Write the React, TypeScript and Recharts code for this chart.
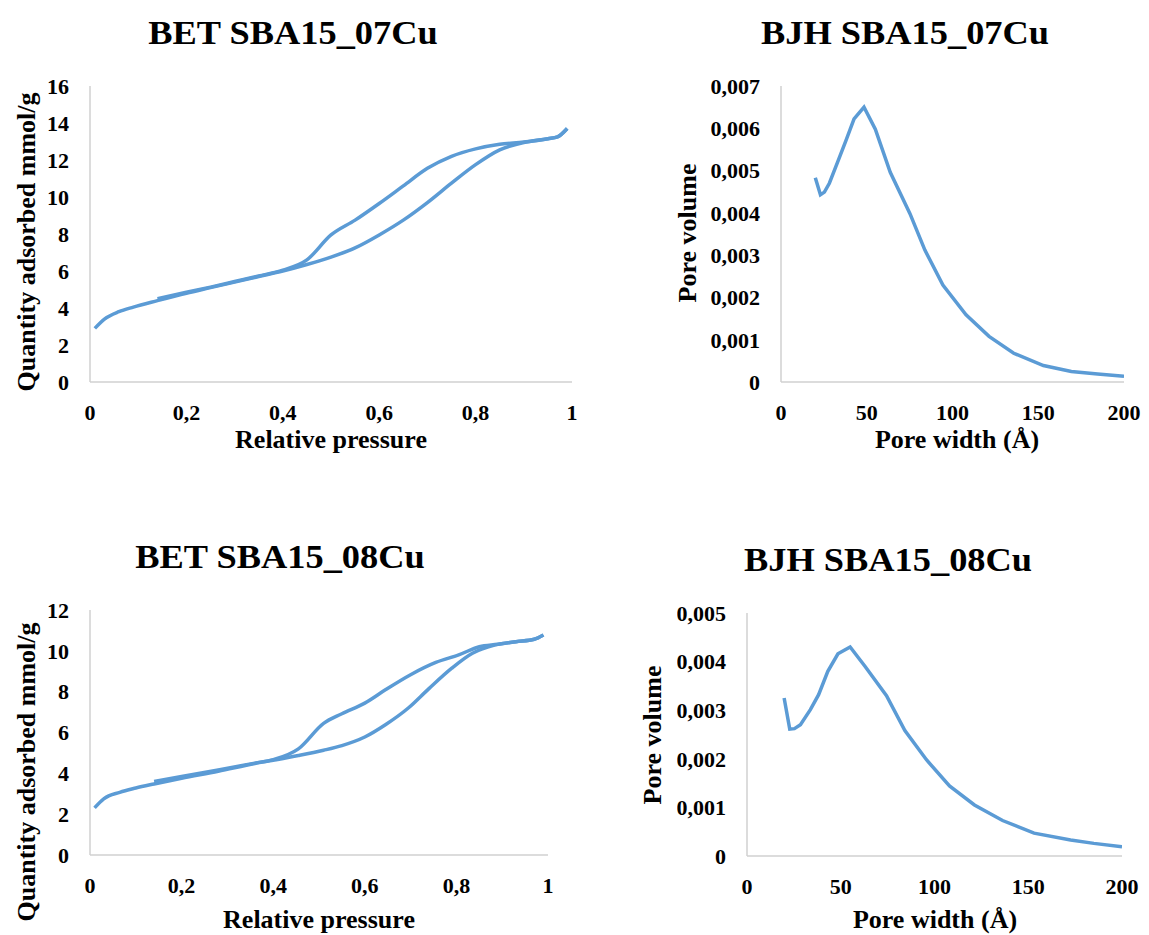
import { Line, LineChart, XAxis, YAxis } from "recharts";

const FONT = '"Liberation Serif", "Times New Roman", serif';
const BLUE = "#5b9bd5";
const AXIS = "#d0d0d0";

// BET SBA15_07Cu, adsorption / desorption branches
const bet07AdsP = [0.01, 0.03, 0.06, 0.09, 0.14, 0.2, 0.25, 0.3, 0.35, 0.4, 0.45, 0.5, 0.55, 0.6, 0.65, 0.7, 0.75, 0.8, 0.85, 0.9, 0.95, 0.97, 0.99];
const bet07AdsQ = [2.9, 3.4, 3.8, 4.05, 4.4, 4.8, 5.1, 5.4, 5.7, 6.0, 6.35, 6.75, 7.25, 7.95, 8.75, 9.7, 10.75, 11.75, 12.55, 12.95, 13.15, 13.25, 13.7];
const bet07DesP = [0.14, 0.2, 0.25, 0.3, 0.35, 0.4, 0.45, 0.5, 0.55, 0.6, 0.65, 0.7, 0.75, 0.8, 0.85, 0.9, 0.95, 0.97, 0.99];
const bet07DesQ = [4.5, 4.85, 5.13, 5.43, 5.73, 6.05, 6.6, 7.95, 8.75, 9.65, 10.6, 11.55, 12.2, 12.6, 12.85, 12.97, 13.15, 13.25, 13.7];

// BET SBA15_08Cu
const bet08AdsP = [0.01, 0.03, 0.065, 0.1, 0.14, 0.2, 0.28, 0.36, 0.4, 0.455, 0.51, 0.55, 0.6, 0.645, 0.695, 0.74, 0.79, 0.835, 0.885, 0.93, 0.97, 0.99];
const bet08AdsQ = [2.31, 2.75, 3.07, 3.28, 3.48, 3.76, 4.1, 4.48, 4.64, 4.87, 5.13, 5.36, 5.78, 6.38, 7.2, 8.15, 9.15, 9.88, 10.29, 10.45, 10.57, 10.78];
const bet08DesP = [0.14, 0.2, 0.28, 0.36, 0.4, 0.455, 0.51, 0.55, 0.6, 0.645, 0.7, 0.755, 0.805, 0.85, 0.89, 0.93, 0.97, 0.99];
const bet08DesQ = [3.6, 3.85, 4.17, 4.5, 4.67, 5.2, 6.45, 6.92, 7.44, 8.09, 8.83, 9.43, 9.8, 10.2, 10.32, 10.45, 10.57, 10.78];

// BJH pore size distributions
const bjh07W = [20, 23, 25.3, 28.2, 33, 37.8, 42.6, 48.4, 55, 63.7, 75.2, 83.9, 94.4, 107.9, 121.3, 135.7, 153, 169.3, 184.6, 200];
const bjh07V = [0.00483, 0.00443, 0.00449, 0.0047, 0.0052, 0.0057, 0.00622, 0.0065, 0.00598, 0.00496, 0.00398, 0.00312, 0.00229, 0.00159, 0.00108, 0.00068, 0.00039, 0.00025, 0.00019, 0.000135];
const bjh08W = [19.8, 22.8, 25.3, 28.5, 33.8, 38.2, 43.1, 48.5, 55, 63, 74.4, 84.2, 95.7, 108, 121.3, 136.3, 153.1, 172.6, 185, 200];
const bjh08V = [0.00325, 0.00261, 0.00262, 0.0027, 0.00301, 0.00332, 0.0038, 0.00416, 0.0043, 0.0039, 0.0033, 0.00258, 0.00198, 0.00144, 0.00105, 0.00073, 0.00047, 0.00033, 0.00026, 0.00019];

const pressureTicks = [0, 0.2, 0.4, 0.6, 0.8, 1];
const widthTicks = [0, 50, 100, 150, 200];
const bet07Ticks = [0, 2, 4, 6, 8, 10, 12, 14, 16];
const bet08Ticks = [0, 2, 4, 6, 8, 10, 12];
const bjh07Ticks = [0, 0.001, 0.002, 0.003, 0.004, 0.005, 0.006, 0.007];
const bjh08Ticks = [0, 0.001, 0.002, 0.003, 0.004, 0.005];

const zip = (xs: number[], ys: number[]) => xs.map((x, i) => ({ x, y: ys[i] }));
const comma = (v: number) => String(v).replace(".", ",");

const tickStyle = { fontSize: 22, fill: "#000", fontWeight: 700, fontFamily: FONT };

interface PanelProps {
  title: string;
  xTitle: string;
  yTitle: string;
  series: { x: number; y: number }[][];
  curve: "monotone" | "linear";
  xTicks: number[];
  yTicks: number[];
  plot: { l: number; r: number; t: number; b: number };
  titleAt: [number, number];
  xTitleAt: [number, number];
  yTitleAt: [number, number];
}

function Text({ at, size, rotate, stretch = 1, children }: { at: [number, number]; size: number; rotate?: boolean; stretch?: number; children: string }) {
  return (
    <div
      style={{
        position: "absolute",
        left: at[0],
        top: at[1],
        transform: `translate(-50%, -50%)${rotate ? " rotate(-90deg)" : ""} scaleX(${stretch})`,
        whiteSpace: "nowrap",
        fontFamily: FONT,
        fontWeight: 700,
        fontSize: size,
        lineHeight: 1,
        color: "#000",
      }}
    >
      {children}
    </div>
  );
}

function Panel(p: PanelProps) {
  const yW = 60;
  const xH = 50;
  const x0 = p.plot.l - yW - 10;
  const y0 = p.plot.t - 20;
  const w = p.plot.r - x0 + 30;
  const h = p.plot.b - y0 + xH + 10;
  return (
    <>
      <Text at={p.titleAt} size={34} stretch={1.07}>{p.title}</Text>
      <Text at={p.xTitleAt} size={26}>{p.xTitle}</Text>
      <Text at={p.yTitleAt} size={26} rotate>{p.yTitle}</Text>
      <div style={{ position: "absolute", left: x0, top: y0 }}>
        <LineChart width={w} height={h} margin={{ left: 10, top: 20, right: 30, bottom: 10 }}>
          <XAxis
            type="number"
            dataKey="x"
            domain={[p.xTicks[0], p.xTicks[p.xTicks.length - 1]]}
            ticks={p.xTicks}
            tickFormatter={comma}
            tick={tickStyle}
            tickLine={false}
            tickMargin={16}
            height={xH}
            axisLine={{ stroke: AXIS, strokeWidth: 1.5 }}
            allowDataOverflow
          />
          <YAxis
            type="number"
            dataKey="y"
            domain={[p.yTicks[0], p.yTicks[p.yTicks.length - 1]]}
            ticks={p.yTicks}
            tickFormatter={comma}
            tick={tickStyle}
            tickLine={false}
            tickMargin={15}
            width={yW}
            axisLine={{ stroke: AXIS, strokeWidth: 1.5 }}
            interval={0}
          />
          {p.series.map((d, i) => (
            <Line
              key={i}
              data={d}
              dataKey="y"
              type={p.curve}
              stroke={BLUE}
              strokeWidth={3.5}
              dot={false}
              activeDot={false}
              isAnimationActive={false}
            />
          ))}
        </LineChart>
      </div>
    </>
  );
}

export default function App() {
  return (
    <div style={{ position: "absolute", left: 0, top: 0, width: 1149, height: 935, background: "#fff", overflow: "hidden" }}>
      <Panel
        title="BET SBA15_07Cu"
        xTitle="Relative pressure"
        yTitle="Quantity adsorbed mmol/g"
        series={[zip(bet07AdsP, bet07AdsQ), zip(bet07DesP, bet07DesQ)]}
        curve="monotone"
        xTicks={pressureTicks}
        yTicks={bet07Ticks}
        plot={{ l: 90, r: 572, t: 86, b: 382 }}
        titleAt={[293, 33]}
        xTitleAt={[331, 440]}
        yTitleAt={[27, 242]}
      />
      <Panel
        title="BJH SBA15_07Cu"
        xTitle="Pore width (Å)"
        yTitle="Pore volume"
        series={[zip(bjh07W, bjh07V)]}
        curve="linear"
        xTicks={widthTicks}
        yTicks={bjh07Ticks}
        plot={{ l: 781, r: 1124, t: 86, b: 382 }}
        titleAt={[905, 33]}
        xTitleAt={[957, 440]}
        yTitleAt={[688, 233]}
      />
      <Panel
        title="BET SBA15_08Cu"
        xTitle="Relative pressure"
        yTitle="Quantity adsorbed mmol/g"
        series={[zip(bet08AdsP, bet08AdsQ), zip(bet08DesP, bet08DesQ)]}
        curve="monotone"
        xTicks={pressureTicks}
        yTicks={bet08Ticks}
        plot={{ l: 90, r: 548, t: 610, b: 855 }}
        titleAt={[280, 557]}
        xTitleAt={[319, 920]}
        yTitleAt={[27, 772]}
      />
      <Panel
        title="BJH SBA15_08Cu"
        xTitle="Pore width (Å)"
        yTitle="Pore volume"
        series={[zip(bjh08W, bjh08V)]}
        curve="linear"
        xTicks={widthTicks}
        yTicks={bjh08Ticks}
        plot={{ l: 747, r: 1122, t: 613, b: 856 }}
        titleAt={[888, 560]}
        xTitleAt={[935, 920]}
        yTitleAt={[653, 735]}
      />
    </div>
  );
}
